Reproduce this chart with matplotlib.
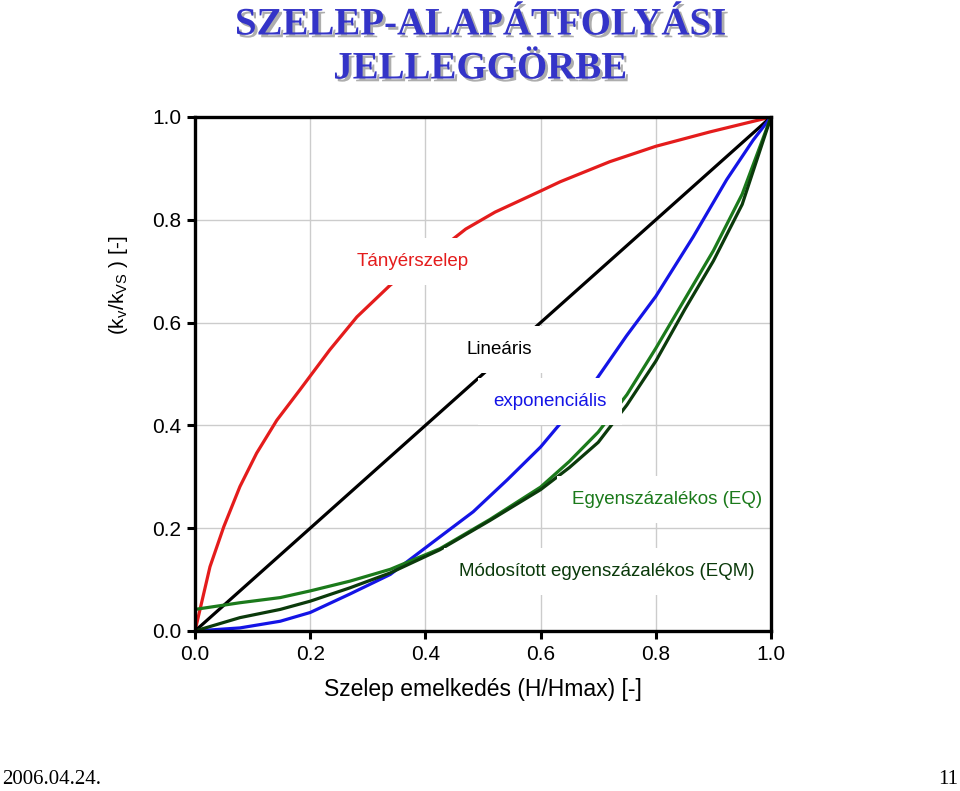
import matplotlib.pyplot as plt
import matplotlib.patheffects as pe

# curve data
x_red = [0, 0.026, 0.05, 0.078, 0.107, 0.142, 0.182, 0.234, 0.281, 0.339, 0.4, 0.436, 0.47, 0.521, 0.6, 0.634, 0.72, 0.8, 0.894, 1.0]
y_red = [0, 0.125, 0.203, 0.281, 0.346, 0.41, 0.469, 0.547, 0.611, 0.673, 0.725, 0.752, 0.782, 0.815, 0.856, 0.874, 0.913, 0.943, 0.971, 1.0]

x_lin = [0, 1.0]
y_lin = [0, 1.0]

x_exp = [0, 0.078, 0.148, 0.2, 0.269, 0.339, 0.425, 0.483, 0.542, 0.6, 0.689, 0.749, 0.8, 0.865, 0.923, 0.969, 1.0]
y_exp = [0, 0.006, 0.019, 0.036, 0.072, 0.11, 0.183, 0.232, 0.294, 0.358, 0.477, 0.574, 0.651, 0.767, 0.878, 0.955, 1.0]

x_eq = [0, 0.078, 0.148, 0.2, 0.269, 0.339, 0.425, 0.512, 0.6, 0.65, 0.7, 0.75, 0.8, 0.85, 0.9, 0.95, 1.0]
y_eq = [0.042, 0.055, 0.065, 0.078, 0.097, 0.12, 0.16, 0.217, 0.28, 0.33, 0.387, 0.46, 0.55, 0.645, 0.74, 0.85, 1.0]

x_eqm = [0, 0.078, 0.148, 0.2, 0.269, 0.339, 0.425, 0.512, 0.6, 0.65, 0.7, 0.75, 0.8, 0.85, 0.9, 0.95, 1.0]
y_eqm = [0, 0.026, 0.042, 0.058, 0.084, 0.113, 0.158, 0.215, 0.275, 0.318, 0.367, 0.44, 0.525, 0.625, 0.72, 0.83, 1.0]

ticks = [0.0, 0.2, 0.4, 0.6, 0.8, 1.0]

plt.rcParams['font.family'] = ['Liberation Sans', 'DejaVu Sans']

fig = plt.figure(figsize=(9.6, 7.91), dpi=100)
ax = fig.add_axes([195/960, 160/791, 576/960, 514/791])

ax.plot(x_red, y_red, color='#e41c1c', lw=2.3, zorder=3)
ax.plot(x_lin, y_lin, color='black', lw=2.3, zorder=3)
ax.plot(x_exp, y_exp, color='#1414e6', lw=2.3, zorder=3)
ax.plot(x_eq, y_eq, color='#1b7a1b', lw=2.3, zorder=3)
ax.plot(x_eqm, y_eqm, color='#0b3a0b', lw=2.3, zorder=3)

ax.set_xlim(0, 1)
ax.set_ylim(0, 1)
ax.set_xticks(ticks)
ax.set_yticks(ticks)
ax.set_xticklabels(['%.1f' % t for t in ticks])
ax.set_yticklabels(['%.1f' % t for t in ticks])
ax.tick_params(labelsize=15, width=2.2, length=6, direction='out', pad=4)
ax.grid(True, color='#cccccc', lw=1)
ax.set_axisbelow(True)
for s in ax.spines.values():
    s.set_linewidth(2.4)
    s.set_zorder(6)

box = dict(boxstyle='square,pad=0.8', fc='white', ec='none')
labels = [
    ('Tányérszelep', 0.378, 0.718, '#e41c1c'),
    ('Lineáris', 0.528, 0.547, 'black'),
    ('exponenciális', 0.616, 0.446, '#1414e6'),
    ('Egyenszázalékos (EQ)', 0.819, 0.255, '#1b7a1b'),
    ('Módosított egyenszázalékos (EQM)', 0.714, 0.115, '#0b3a0b'),
]
for txt, lx, ly, c in labels:
    ax.text(lx, ly, txt, color=c, fontsize=13.5, ha='center', va='center', bbox=box, zorder=4)

ax.set_xlabel('Szelep emelkedés (H/Hmax) [-]', fontsize=16.5, labelpad=10)
fig.text(118/960, 1 - 285/791, '(k$_\\mathregular{v}$/k$_\\mathregular{VS}$ ) [-]',
         rotation=90, fontsize=15, ha='center', va='center')

shadow = [pe.SimplePatchShadow(offset=(2, -2), shadow_rgbFace='#999999', alpha=0.8), pe.Normal()]
fig.text(0.5, 1 - 47/791, 'SZELEP-ALAPÁTFOLYÁSI\nJELLEGGÖRBE', ha='center', va='center',
         fontsize=28, fontweight='bold', family='Liberation Serif', color='#3434c8',
         linespacing=1.25, path_effects=shadow)

fig.text(2/960, 1 - 780/791, '2006.04.24.', fontsize=15, family='Liberation Serif',
         ha='left', va='center')
fig.text(958/960, 1 - 780/791, '11', fontsize=15, family='Liberation Serif',
         ha='right', va='center')

fig.savefig('out.png', dpi=100)
